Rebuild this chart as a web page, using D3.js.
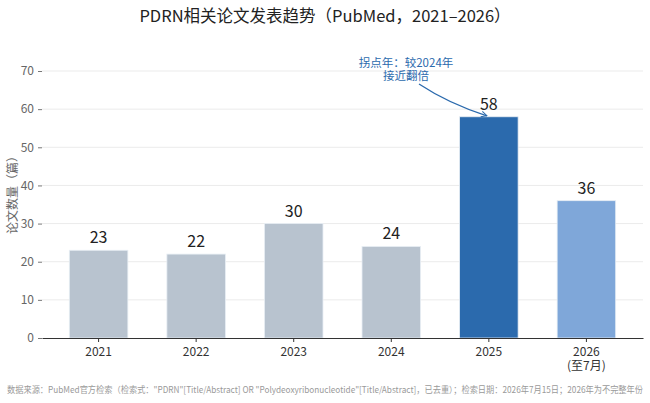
<!DOCTYPE html>
<html>
<meta charset=utf-8>
<head>
  <style>
    body { margin: 0; background: #fff; }
    text { font-family: "Noto Sans CJK SC", "Noto Sans", sans-serif; }
  </style>
</head>
<body>
  <svg id="canvas" width="650" height="403"></svg>
  <script src="https://d3js.org/d3.v7.min.js"></script>
  <script>

  var years = ['2021', '2022', '2023', '2024', '2025', '2026'];
  var yearLabels = [['2021'], ['2022'], ['2023'], ['2024'], ['2025'], ['2026', '(至7月)']];
  var counts = [23, 22, 30, 24, 58, 36];
  var barColors = ['#b8c3cf', '#b8c3cf', '#b8c3cf', '#b8c3cf', '#2b6aad', '#7fa7d9'];
  var yTicks = [0, 10, 20, 30, 40, 50, 60, 70];
  var noteLines = ['拐点年：较2024年', '接近翻倍'];
  var noteYear = '2025';

  var svg = d3.select('#canvas');
  var plotLeft = 42, plotRight = 643, plotTop = 71, plotBottom = 338;

  var x = d3.scaleBand()
    .domain(years)
    .range([plotLeft, plotRight])
    .paddingInner(0.4)
    .paddingOuter(0.28);

  var y = d3.scaleLinear()
    .domain([0, 70])
    .range([plotBottom, plotTop]);

  // grid
  svg.append('g')
    .selectAll('line')
    .data(yTicks.slice(1))
    .enter()
    .append('line')
    .attr('x1', plotLeft)
    .attr('x2', plotRight)
    .attr('y1', function(d) { return y(d) })
    .attr('y2', function(d) { return y(d) })
    .attr('stroke', '#ebebeb')
    .attr('stroke-width', 1);

  // y axis
  var yAxis = svg.append('g')
    .attr('transform', 'translate(' + plotLeft + ',0)')
    .call(d3.axisLeft(y).tickValues(yTicks).tickSize(4).tickPadding(4));
  yAxis.select('.domain').remove();
  yAxis.selectAll('line').attr('stroke', '#777');
  yAxis.selectAll('text')
    .attr('fill', '#666')
    .style('font-size', '12px');

  // bars
  svg.append('g')
    .selectAll('rect')
    .data(counts)
    .enter()
    .append('rect')
    .attr('x', function(d, i) { return x(years[i]) })
    .attr('y', function(d) { return y(d) })
    .attr('width', x.bandwidth())
    .attr('height', function(d) { return y(0) - y(d) })
    .attr('fill', function(d, i) { return barColors[i] })
    .attr('stroke', '#e8eef4')
    .attr('stroke-width', 0.8);

  // value labels
  svg.append('g')
    .selectAll('text')
    .data(counts)
    .enter()
    .append('text')
    .attr('x', function(d, i) { return x(years[i]) + x.bandwidth() / 2 })
    .attr('y', function(d) { return y(d) - 7 })
    .attr('text-anchor', 'middle')
    .attr('fill', '#222')
    .style('font-size', '16px')
    .text(function(d) { return d });

  // x axis
  var xAxis = svg.append('g')
    .attr('transform', 'translate(0,' + plotBottom + ')')
    .call(d3.axisBottom(x).tickSize(4).tickSizeOuter(0).tickFormat(''));
  xAxis.select('.domain').attr('stroke', '#333').attr('stroke-width', 1.2);
  xAxis.selectAll('.tick line').attr('stroke', '#333');

  var xl = svg.append('g')
    .selectAll('text')
    .data(yearLabels)
    .enter()
    .append('text')
    .attr('x', function(d, i) { return x(years[i]) + x.bandwidth() / 2 })
    .attr('y', plotBottom + 18)
    .attr('text-anchor', 'middle')
    .attr('fill', '#333')
    .style('font-size', '12px');
  xl.selectAll('tspan')
    .data(function(d) { return d })
    .enter()
    .append('tspan')
    .attr('x', function() { return d3.select(this.parentNode).attr('x') })
    .attr('dy', function(d, i) { return i === 0 ? 0 : 14 })
    .text(function(d) { return d });

  // y label
  svg.append('text')
    .attr('transform', 'translate(17,192) rotate(-90)')
    .attr('text-anchor', 'middle')
    .attr('fill', '#666')
    .style('font-size', '12px')
    .text('论文数量（篇）');

  // title
  svg.append('text')
    .attr('x', 325)
    .attr('y', 22)
    .attr('text-anchor', 'middle')
    .attr('fill', '#222')
    .style('font-size', '16.5px')
    .text('PDRN相关论文发表趋势（PubMed，2021–2026）');

  // annotation
  var noteX = 406, noteY = 67;
  svg.append('g')
    .selectAll('text')
    .data(noteLines)
    .enter()
    .append('text')
    .attr('x', noteX)
    .attr('y', function(d, i) { return noteY + i * 13 })
    .attr('text-anchor', 'middle')
    .attr('fill', '#2b6aad')
    .style('font-size', '11.5px')
    .text(function(d) { return d });

  svg.append('defs').append('marker')
    .attr('id', 'arrow')
    .attr('viewBox', '0 0 10 10')
    .attr('refX', 9)
    .attr('refY', 5)
    .attr('markerWidth', 7)
    .attr('markerHeight', 7)
    .attr('markerUnits', 'userSpaceOnUse')
    .attr('orient', 'auto')
    .append('path')
    .attr('d', 'M1,1 L9,5 L1,9')
    .attr('fill', 'none')
    .attr('stroke', '#2b6aad')
    .attr('stroke-width', 1.4);

  var ai = years.indexOf(noteYear);
  var ex = x(noteYear) + x.bandwidth() / 2 - 2, ey = y(counts[ai]) - 1;
  var sx = noteX + 13, sy = noteY + 17;
  var path = d3.path();
  path.moveTo(sx, sy);
  path.quadraticCurveTo(sx + 30, ey - 12, ex, ey);
  svg.append('path')
    .attr('d', path.toString())
    .attr('fill', 'none')
    .attr('stroke', '#2b6aad')
    .attr('stroke-width', 1.3)
    .attr('marker-end', 'url(#arrow)');

  // footer
  svg.append('text')
    .attr('x', 7)
    .attr('y', 393)
    .attr('fill', '#9a9a9a')
    .style('font-size', '8.8px')
    .attr('textLength', 636)
    .attr('lengthAdjust', 'spacingAndGlyphs')
    .text('数据来源：PubMed官方检索（检索式："PDRN"[Title/Abstract] OR "Polydeoxyribonucleotide"[Title/Abstract]，已去重）；检索日期：2026年7月15日；2026年为不完整年份');

  </script>
</body>
</html>
